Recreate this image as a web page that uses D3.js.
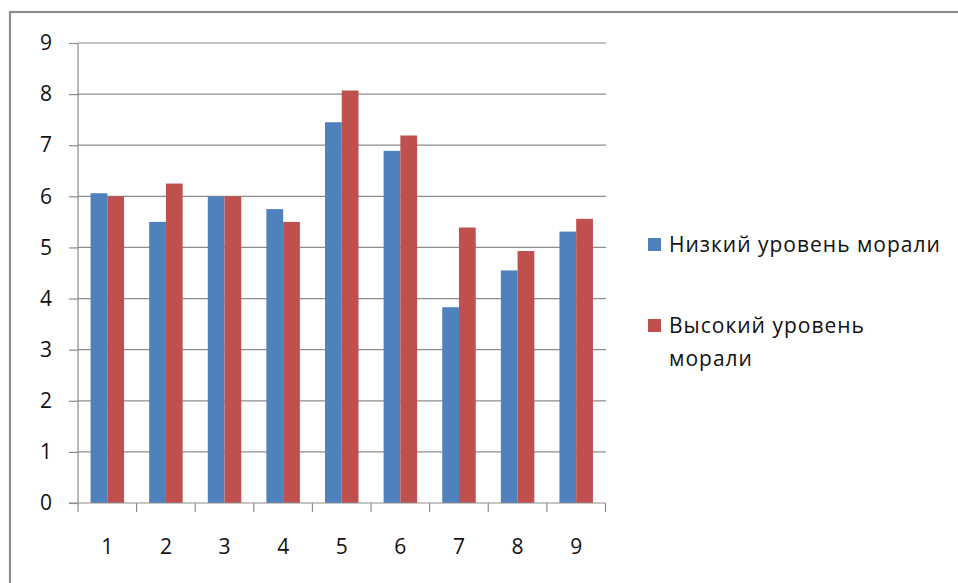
<!DOCTYPE html>
<html>
<head>
<meta charset="utf-8">
<script src="https://cdn.jsdelivr.net/npm/d3@7"></script>
<style>
  body { margin: 0; background: #fff; }
  svg { display: block; }
  text { font-family: "Open Sans", Lato, sans-serif; fill: #111; }
</style>
</head>
<body>
<div id="chart"></div>
<script>
const categories = ["1", "2", "3", "4", "5", "6", "7", "8", "9"];
const seriesNames = ["Низкий уровень морали", "Высокий уровень морали"];
const lowMorale = [6.06, 5.5, 6, 5.75, 7.45, 6.89, 3.83, 4.55, 5.31];
const highMorale = [6, 6.25, 6, 5.5, 8.07, 7.19, 5.39, 4.93, 5.56];
const yTicks = [0, 1, 2, 3, 4, 5, 6, 7, 8, 9];
const colors = ["#4F81BD", "#C0504D"];

const W = 958, H = 583;
const plotLeft = 78, plotRight = 605.5, plotTop = 43, plotBottom = 503;

const svg = d3.select("#chart").append("svg")
    .attr("width", W)
    .attr("height", H);

// outer frame of the chart (only top and left edges are in view)
svg.append("rect")
    .attr("x", 10).attr("y", 12)
    .attr("width", W + 20).attr("height", H + 20)
    .attr("fill", "#fff")
    .attr("stroke", "#8c8c8c")
    .attr("stroke-width", 2.2);

const x = d3.scaleBand()
    .domain(categories)
    .range([plotLeft, plotRight])
    .paddingInner(0.6 / 1.4)
    .paddingOuter(0.3 / 1.4);

const x1 = d3.scaleBand()
    .domain([0, 1])
    .range([0, x.bandwidth()]);

const y = d3.scaleLinear()
    .domain([0, 9])
    .range([plotBottom, plotTop]);

// gridlines
svg.append("g").selectAll("line")
    .data(yTicks.filter(d => d > 0))
    .enter().append("line")
    .attr("x1", plotLeft).attr("x2", plotRight + 0.5)
    .attr("y1", d => y(d)).attr("y2", d => y(d))
    .attr("stroke", "#8c8c8c")
    .attr("stroke-width", 1.2);

// bars
const rows = categories.map((c, i) => ({ cat: c, vals: [lowMorale[i], highMorale[i]] }));
const groups = svg.append("g").selectAll("g")
    .data(rows)
    .enter().append("g")
    .attr("transform", d => "translate(" + x(d.cat) + ",0)");

groups.selectAll("rect")
    .data(d => d.vals.map((v, k) => ({ v: v, k: k })))
    .enter().append("rect")
    .attr("x", d => x1(d.k))
    .attr("y", d => y(d.v))
    .attr("width", x1.bandwidth())
    .attr("height", d => plotBottom - y(d.v))
    .attr("fill", d => colors[d.k]);

// y axis
const yAxis = d3.axisLeft(y)
    .tickValues(yTicks)
    .tickSize(9)
    .tickPadding(17)
    .tickFormat(d3.format("d"));
const gy = svg.append("g")
    .attr("transform", "translate(" + plotLeft + ",0)")
    .call(yAxis);
gy.select(".domain").attr("stroke", "#8c8c8c").attr("stroke-width", 1.2)
    .attr("d", "M0," + plotTop + "V" + plotBottom);
gy.selectAll(".tick line").attr("stroke", "#8c8c8c").attr("stroke-width", 1.2);
gy.selectAll(".tick text").style("font-size", "21px");

// x axis: labels under band centres, ticks on band boundaries
const xAxis = d3.axisBottom(x)
    .tickSize(0)
    .tickPadding(36);
const gx = svg.append("g")
    .attr("transform", "translate(0," + plotBottom + ")")
    .call(xAxis);
gx.select(".domain").attr("stroke", "#8c8c8c").attr("stroke-width", 1.2)
    .attr("d", "M" + (plotLeft - 9) + ",0H" + plotRight);
gx.selectAll(".tick text").style("font-size", "21px");

const bounds = d3.range(categories.length + 1).map(i => plotLeft + i * x.step());
gx.selectAll(".bound")
    .data(bounds)
    .enter().append("line")
    .attr("class", "bound")
    .attr("x1", d => d).attr("x2", d => d)
    .attr("y1", 0).attr("y2", 9)
    .attr("stroke", "#8c8c8c")
    .attr("stroke-width", 1.2);

// legend
const legendRows = [
    { lines: ["Низкий уровень морали"], y: 252 },
    { lines: ["Высокий уровень", "морали"], y: 333 }
];
const lg = svg.append("g").selectAll("g")
    .data(legendRows)
    .enter().append("g");
lg.append("rect")
    .attr("x", 648)
    .attr("y", d => d.y - 14)
    .attr("width", 13).attr("height", 13)
    .attr("fill", (d, i) => colors[i]);
lg.each(function(d) {
    const t = d3.select(this).append("text")
        .attr("x", 669)
        .attr("y", d.y)
        .style("font-size", "21px")
        .style("letter-spacing", "1px");
    d.lines.forEach((s, j) => {
        t.append("tspan").attr("x", 669).attr("dy", j === 0 ? 0 : 33).text(s);
    });
});
</script>
</body>
</html>
